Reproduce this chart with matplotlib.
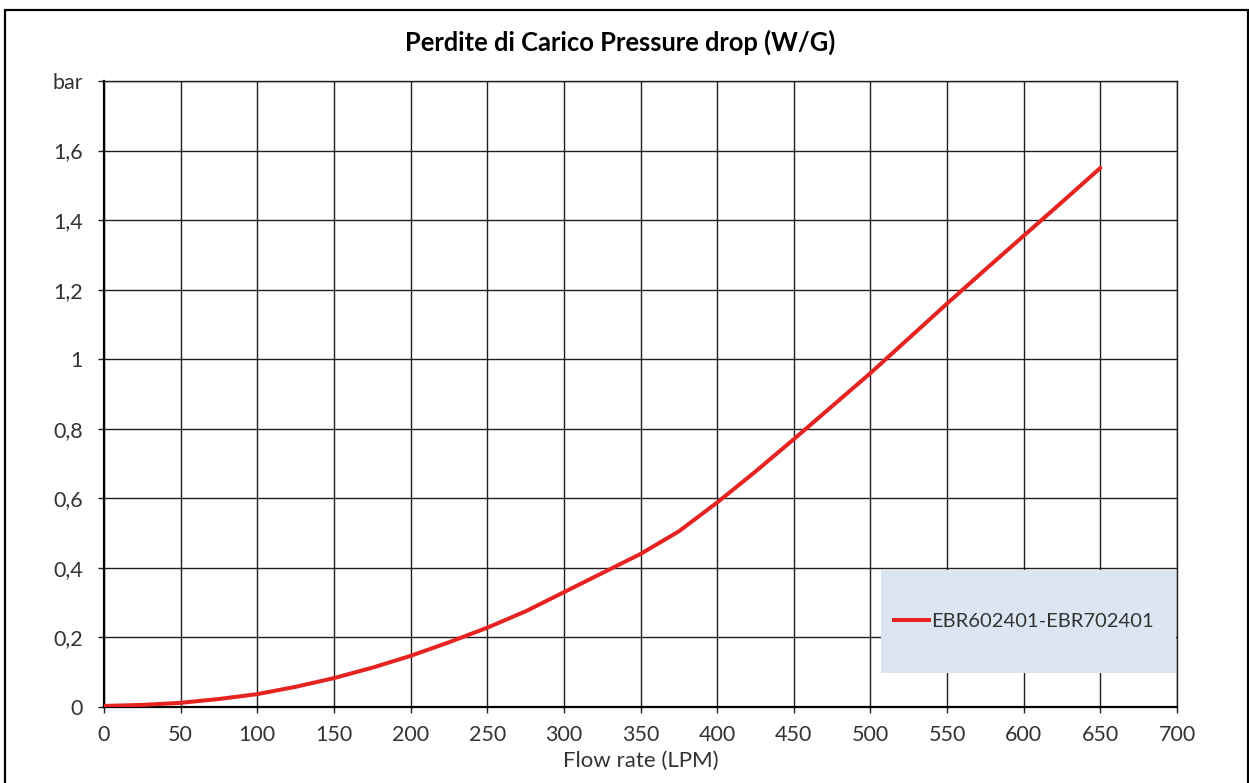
import matplotlib
matplotlib.use("Agg")
import matplotlib.pyplot as plt
from matplotlib.patches import Rectangle
from matplotlib.lines import Line2D

# Data
flow_lpm = [0, 25, 50, 75, 100, 125, 150, 175, 200, 225, 250, 275, 300, 325, 350, 375, 400,
            425, 450, 475, 500, 525, 550, 575, 600, 625, 650]
pressure_bar = [0.003, 0.006, 0.012, 0.023, 0.037, 0.058, 0.083, 0.113, 0.147, 0.186, 0.228, 0.275,
                0.33, 0.385, 0.44, 0.505, 0.588, 0.677, 0.77, 0.865, 0.96, 1.06, 1.16, 1.258,
                1.355, 1.452, 1.55]
series_name = "EBR602401-EBR702401"
x_ticks = [0, 50, 100, 150, 200, 250, 300, 350, 400, 450, 500, 550, 600, 650, 700]
y_ticks = [0, 0.2, 0.4, 0.6, 0.8, 1.0, 1.2, 1.4, 1.6, 1.8]
y_tick_labels = ["0", "0,2", "0,4", "0,6", "0,8", "1", "1,2", "1,4", "1,6", "bar"]
title = "Perdite di Carico Pressure drop (W/G)"
x_label = "Flow rate (LPM)"

plt.rcParams['font.family'] = ['Lato', 'DejaVu Sans']

W, H = 1249, 783
fig = plt.figure(figsize=(W / 100, H / 100), dpi=100)

# outer chart border
fig.patches.append(Rectangle((5 / W, -0.05), (1248 - 5) / W, 1.05 - 10 / H, transform=fig.transFigure,
                             fill=False, edgecolor='black', linewidth=1.6, zorder=0))

ax = fig.add_axes([104 / W, (H - 707) / H, (1177 - 104) / W, (707 - 81) / H])
ax.set_xlim(0, 700)
ax.set_ylim(0, 1.8)

ax.grid(True, color='#202020', linewidth=1.0)
ax.set_axisbelow(True)

ax.plot(flow_lpm, pressure_bar, color='#e52421', linewidth=2.9, solid_capstyle='round',
        solid_joinstyle='round', zorder=3, label=series_name)

ax.set_xticks(x_ticks)
ax.set_yticks(y_ticks)
ax.set_yticklabels(y_tick_labels)
ax.tick_params(axis='both', direction='out', length=4, width=1.0, color='#202020',
               labelsize=15.5, labelcolor='#333333')
ax.tick_params(axis='y', pad=11)
ax.tick_params(axis='x', pad=9)

for s in ['left', 'bottom']:
    ax.spines[s].set_linewidth(1.6)
    ax.spines[s].set_color('black')
for s in ['top', 'right']:
    ax.spines[s].set_linewidth(1.0)
    ax.spines[s].set_color('#202020')

ax.set_xlabel(x_label, fontsize=16, color='#333333', labelpad=4)

fig.text(620 / W, 1 - 42 / H, title, ha='center', va='center', fontsize=18.4, fontweight='bold', color='black')

# legend box
ax.add_patch(Rectangle(((881 - 104) / 1073, (707 - 673) / 626), 295 / 1073, 103 / 626,
                       transform=ax.transAxes, facecolor='#dce6f2', edgecolor='none', zorder=4))
handle = Line2D([], [], color='#e52421', linewidth=2.9)
leg = ax.legend([handle], [series_name], loc='center left',
                bbox_to_anchor=((894 - 104) / 1073, (707 - 621) / 626), frameon=False,
                fontsize=14.5, handlelength=1.75, handletextpad=0.1, borderpad=0, borderaxespad=0)
leg.set_zorder(5)
for t in leg.get_texts():
    t.set_color('#333333')

fig.savefig('out.png', dpi=100)
